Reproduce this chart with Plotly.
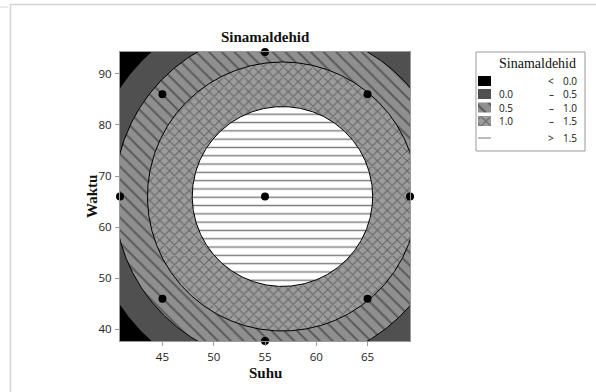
import numpy as np
import plotly.graph_objects as go

# ---------------- data ----------------
# central composite design points (natural units)
suhu = [45, 65, 45, 65, 40.86, 69.14, 55, 55, 55]
waktu = [46, 46, 86, 86, 66, 66, 37.72, 94.28, 66]

# coding of the factors: coded = (value - centre) / step
suhu_centre, suhu_step = 55, 10
waktu_centre, waktu_step = 66, 20

# fitted quadratic response surface for Sinamaldehid (coded units)
# z = b0 + b1*u + b2*v + b11*u^2 + b22*v^2 + b12*u*v
coef_b0 = 1.889
coef_lin = [0.1775, 0.0]          # b1 (Suhu), b2 (Waktu)
coef_sq = [-0.522, -0.522]        # b11, b22
coef_int = 0.0                    # b12

levels = [0.0, 0.5, 1.0, 1.5]
legend_lo = ["", "0.0", "0.5", "1.0", ""]
legend_sym = ["<", "–", "–", "–", ">"]
legend_hi = ["0.0", "0.5", "1.0", "1.5", "1.5"]

# ---------------- contour geometry from the model ----------------
A = np.array([[coef_sq[0], coef_int / 2], [coef_int / 2, coef_sq[1]]])
b = np.array(coef_lin)
stat = np.linalg.solve(-2 * A, b)           # stationary point (coded)
zmax = coef_b0 + b @ stat + stat @ A @ stat
theta = np.linspace(0, 2 * np.pi, 721)
dirs = np.stack([np.cos(theta), np.sin(theta)], axis=1)
quad = np.einsum("ij,jk,ik->i", dirs, A, dirs)


def level_curve(L):
    r = np.sqrt((L - zmax) / quad)
    u = stat[0] + r * dirs[:, 0]
    v = stat[1] + r * dirs[:, 1]
    return suhu_centre + suhu_step * u, waktu_centre + waktu_step * v


W, H = 596, 392
PL, PR, PT, PB = 120, 410, 52, 341
dom_x = [PL / W, PR / W]
dom_y = [1 - PB / H, 1 - PT / H]

styles = [
    dict(fillcolor="#505050", fillpattern=None),
    dict(fillcolor="#8c8c8c", fillpattern=dict(shape="\\", fgcolor="#5a5a5a", bgcolor="#8f8f8f",
                                                size=9, solidity=0.22, fillmode="replace")),
    dict(fillcolor="#8c8c8c", fillpattern=dict(shape="x", fgcolor="#666666", bgcolor="#9c9c9c",
                                                size=7, solidity=0.3, fillmode="replace")),
    dict(fillcolor="#ffffff", fillpattern=dict(shape="-", fgcolor="#7a7a7a", bgcolor="#ffffff",
                                                size=8.3, solidity=0.17, fillmode="replace")),
]

fig = go.Figure()
for L, st in zip(levels, styles):
    cx, cy = level_curve(L)
    kw = dict(x=cx, y=cy, mode="lines", fill="toself", fillcolor=st["fillcolor"],
              line=dict(color="#000000", width=1), hoverinfo="skip", showlegend=False,
              xaxis="x", yaxis="y")
    if st["fillpattern"] is not None:
        kw["fillpattern"] = st["fillpattern"]
    fig.add_trace(go.Scatter(**kw))

fig.add_trace(go.Scatter(x=suhu, y=waktu, mode="markers",
                         marker=dict(color="#000000", size=8), cliponaxis=False,
                         showlegend=False, hoverinfo="skip"))

# ---------------- legend (drawn in its own small subplot) ----------------
LX0, LX1, LY0, LY1 = 476, 585, 52, 151
row_y = [81, 94, 107.5, 121, 138]
sw_x0, sw_x1 = 478, 491
legend_fill = ["#000000"] + [s["fillcolor"] for s in styles[:3]]
legend_pat = [None] + [s["fillpattern"] for s in styles[:3]]
for i in range(4):
    y0, y1 = row_y[i] - 5, row_y[i] + 5
    kw = dict(x=[sw_x0, sw_x1, sw_x1, sw_x0, sw_x0], y=[y0, y0, y1, y1, y0],
              mode="lines", fill="toself", fillcolor=legend_fill[i],
              line=dict(width=0, color=legend_fill[i]), showlegend=False,
              hoverinfo="skip", xaxis="x2", yaxis="y2")
    if legend_pat[i] is not None:
        kw["fillpattern"] = legend_pat[i]
    fig.add_trace(go.Scatter(**kw))
fig.add_trace(go.Scatter(x=[sw_x0, sw_x1], y=[row_y[4], row_y[4]], mode="lines",
                         line=dict(color="#777777", width=1), showlegend=False,
                         hoverinfo="skip", xaxis="x2", yaxis="y2"))

tick_font = dict(family="Open Sans", size=11.5, color="#222222")
axis_common = dict(showline=True, mirror=True, linecolor="#9a9a9a", linewidth=1,
                   ticks="outside", ticklen=4, tickcolor="#9a9a9a", showgrid=False,
                   zeroline=False, tickfont=tick_font)

fig.update_layout(
    width=W, height=H, margin=dict(l=0, r=0, t=0, b=0),
    paper_bgcolor="#ffffff", plot_bgcolor="#ffffff",
    xaxis=dict(domain=dom_x, range=[min(suhu), max(suhu)], tickvals=[45, 50, 55, 60, 65],
               ticklabelstandoff=1, **axis_common),
    yaxis=dict(domain=dom_y, range=[min(waktu), max(waktu)], tickvals=[40, 50, 60, 70, 80, 90],
               ticklabelstandoff=1, **axis_common),
    xaxis2=dict(domain=[LX0 / W, LX1 / W], range=[LX0, LX1], visible=False, anchor="y2"),
    yaxis2=dict(domain=[1 - LY1 / H, 1 - LY0 / H], range=[LY1, LY0], visible=False, anchor="x2"),
)

ann = []
serif = "Liberation Serif"
ann.append(dict(text="<b>Sinamaldehid</b>", x=(PL + PR) / 2 / W, y=1 - 37 / H,
                font=dict(family=serif, size=15, color="#111111")))
ann.append(dict(text="<b>Suhu</b>", x=(PL + PR) / 2 / W, y=1 - 373 / H,
                font=dict(family=serif, size=15, color="#111111")))
ann.append(dict(text="<b>Waktu</b>", x=92 / W, y=1 - 197 / H, textangle=-90,
                font=dict(family=serif, size=15, color="#111111")))
ann.append(dict(text="Sinamaldehid", x=537 / W, y=1 - 64 / H,
                font=dict(family=serif, size=14, color="#111111")))
lf = dict(family="Open Sans", size=10, color="#111111")
for i in range(5):
    yy = 1 - row_y[i] / H
    if legend_lo[i]:
        ann.append(dict(text=legend_lo[i], x=497 / W, y=yy, xanchor="left", font=lf))
    ann.append(dict(text=legend_sym[i], x=551 / W, y=yy, font=lf))
    ann.append(dict(text=legend_hi[i], x=561 / W, y=yy, xanchor="left", font=lf))
for a in ann:
    a.setdefault("xanchor", "center")
    a.update(xref="paper", yref="paper", yanchor="middle", showarrow=False)
fig.update_layout(annotations=ann)

shapes = [
    # region below the lowest contour level (< 0.0) fills the plot background
    dict(type="rect", xref="x domain", yref="y domain", x0=0, x1=1, y0=0, y1=1,
         fillcolor="#000000", line=dict(width=0), layer="below"),
    dict(type="rect", xref="paper", yref="paper", x0=LX0 / W, x1=LX1 / W,
         y0=1 - LY1 / H, y1=1 - LY0 / H, line=dict(color="#9a9a9a", width=1)),
    dict(type="line", xref="paper", yref="paper", x0=10 / W, x1=1, y0=1 - 4.5 / H,
         y1=1 - 4.5 / H, line=dict(color="#d4d4d4", width=1.5)),
    dict(type="line", xref="paper", yref="paper", x0=10.5 / W, x1=10.5 / W,
         y0=1 - 4.5 / H, y1=0, line=dict(color="#d4d4d4", width=1.5)),
    dict(type="line", xref="paper", yref="paper", x0=0, x1=8 / W, y0=1 - 7 / H,
         y1=1 - 7 / H, line=dict(color="#d4d4d4", width=1)),
]
fig.update_layout(shapes=shapes)

fig.write_html("out.html")
